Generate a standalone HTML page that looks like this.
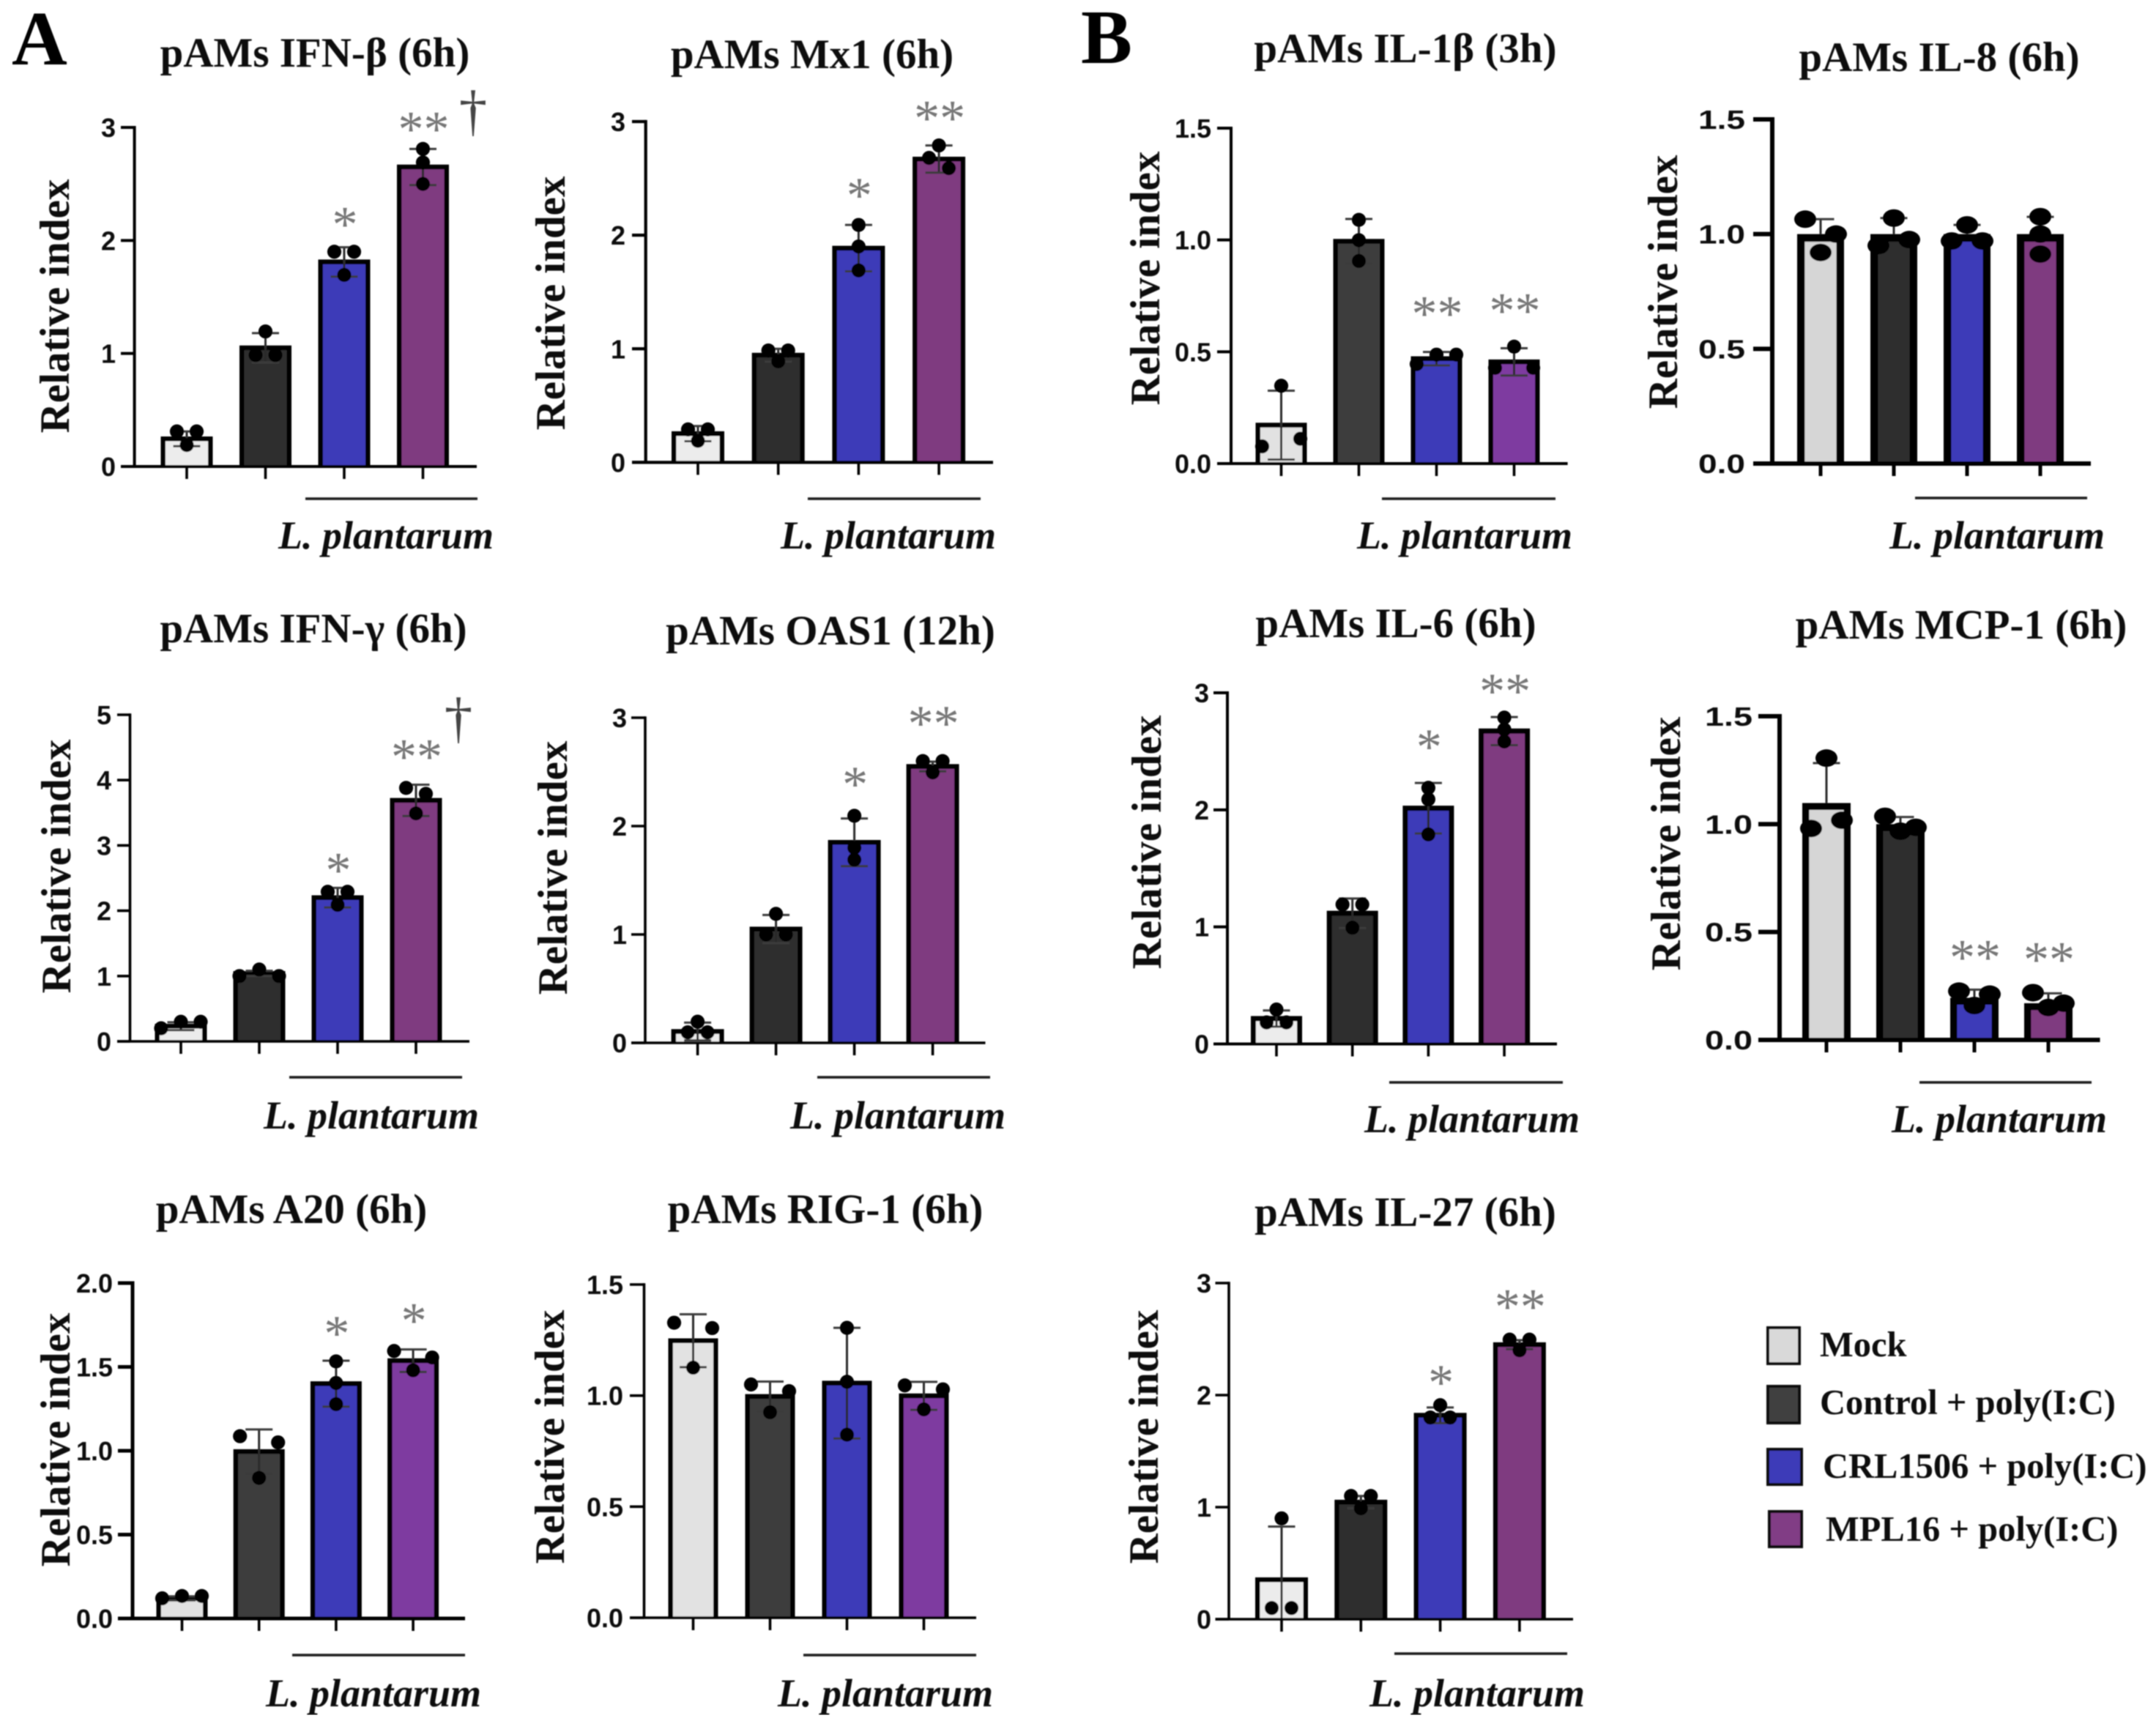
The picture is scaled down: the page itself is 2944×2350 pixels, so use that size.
<!DOCTYPE html>
<html lang="en">
<head>
<meta charset="utf-8">
<title>pAMs relative expression panels</title>
<style>
html,body{margin:0;padding:0;background:#fff;}
body{width:2944px;height:2350px;overflow:hidden;}
svg{display:block;}
.title{font:bold 57px "Liberation Serif",serif;text-anchor:middle;fill:#111;}
.ylabel{font:bold 57px "Liberation Serif",serif;text-anchor:middle;fill:#111;}
.species{font:italic bold 54px "Liberation Serif",serif;text-anchor:middle;fill:#111;}
.letter{font:bold 105px "Liberation Serif",serif;fill:#000;}
.legend-text{font:bold 48.5px "Liberation Serif",serif;fill:#111;}
.dagger{font:77px "Liberation Serif",serif;text-anchor:middle;fill:#444;}
.tick{font:bold 36px "Liberation Sans",sans-serif;text-anchor:end;fill:#111;}
.sig{font:70px "Liberation Serif",serif;text-anchor:middle;fill:#777;}
</style>
</head>
<body>
<svg id="fig" xmlns="http://www.w3.org/2000/svg" width="2944" height="2350" viewBox="0 0 2944 2350">
<defs><filter id="soft" x="0" y="0" width="100%" height="100%"><feGaussianBlur stdDeviation="0.9"/></filter></defs>
<rect width="2944" height="2350" fill="#fff"/>
<g id="root" filter="url(#soft)">
  <text class="letter" x="16" y="88">A</text>
  <text class="letter" x="1476" y="86">B</text>

  <text class="title" x="430" y="91">pAMs IFN-β (6h)</text>
  <text class="title" x="1109" y="93">pAMs Mx1 (6h)</text>
  <text class="title" x="428" y="877">pAMs IFN-γ (6h)</text>
  <text class="title" x="1134" y="880">pAMs OAS1 (12h)</text>
  <text class="title" x="398" y="1670">pAMs A20 (6h)</text>
  <text class="title" x="1127" y="1670">pAMs RIG-1 (6h)</text>
  <text class="title" x="1919" y="85">pAMs IL-1β (3h)</text>
  <text class="title" x="2648" y="97">pAMs IL-8 (6h)</text>
  <text class="title" x="1906" y="870">pAMs IL-6 (6h)</text>
  <text class="title" x="2678" y="872">pAMs MCP-1 (6h)</text>
  <text class="title" x="1919" y="1674">pAMs IL-27 (6h)</text>

  <text class="ylabel" transform="translate(94,418) rotate(-90)">Relative index</text>
  <text class="ylabel" transform="translate(771,414) rotate(-90)">Relative index</text>
  <text class="ylabel" transform="translate(96,1183) rotate(-90)">Relative index</text>
  <text class="ylabel" transform="translate(774,1185) rotate(-90)">Relative index</text>
  <text class="ylabel" transform="translate(95,1966) rotate(-90)">Relative index</text>
  <text class="ylabel" transform="translate(770,1962) rotate(-90)">Relative index</text>
  <text class="ylabel" transform="translate(1583,380) rotate(-90)">Relative index</text>
  <text class="ylabel" transform="translate(2290,385) rotate(-90)">Relative index</text>
  <text class="ylabel" transform="translate(1585,1150) rotate(-90)">Relative index</text>
  <text class="ylabel" transform="translate(2294,1152) rotate(-90)">Relative index</text>
  <text class="ylabel" transform="translate(1581,1962) rotate(-90)">Relative index</text>

  <g stroke="#1a1a1a" stroke-width="3.6">
    <line x1="417" x2="652" y1="681" y2="681"/>
    <line x1="1103" x2="1339" y1="681" y2="681"/>
    <line x1="395" x2="631" y1="1471" y2="1471"/>
    <line x1="1116" x2="1352" y1="1471" y2="1471"/>
    <line x1="399" x2="635" y1="2260" y2="2260"/>
    <line x1="1097" x2="1333" y1="2260" y2="2260"/>
    <line x1="1887" x2="2124" y1="681" y2="681"/>
    <line x1="2615" x2="2850" y1="680" y2="680"/>
    <line x1="1897" x2="2134" y1="1478" y2="1478"/>
    <line x1="2621" x2="2856" y1="1478" y2="1478"/>
    <line x1="1904" x2="2140" y1="2258" y2="2258"/>
  </g>

  <text class="species" x="527" y="749">L. plantarum</text>
  <text class="species" x="1213" y="749">L. plantarum</text>
  <text class="species" x="507" y="1541">L. plantarum</text>
  <text class="species" x="1226" y="1541">L. plantarum</text>
  <text class="species" x="510" y="2330">L. plantarum</text>
  <text class="species" x="1209" y="2330">L. plantarum</text>
  <text class="species" x="2000" y="749">L. plantarum</text>
  <text class="species" x="2727" y="749">L. plantarum</text>
  <text class="species" x="2010" y="1546">L. plantarum</text>
  <text class="species" x="2730" y="1546">L. plantarum</text>
  <text class="species" x="2017" y="2330">L. plantarum</text>

  <text class="dagger" x="646" y="177">†</text>
  <text class="dagger" x="626" y="1006">†</text>

  <g id="charts"></g>

  <g>
    <rect x="2414" y="1813" width="43" height="49" fill="#d9d9d9" stroke="#111" stroke-width="4"/>
    <text class="legend-text" x="2485" y="1852">Mock</text>
    <rect x="2414" y="1893" width="43" height="50" fill="#3f3f3f" stroke="#111" stroke-width="4"/>
    <text class="legend-text" x="2485" y="1931">Control + poly(I:C)</text>
    <rect x="2414" y="1979" width="46" height="48" fill="#3e3bb8" stroke="#111" stroke-width="4"/>
    <text class="legend-text" x="2489" y="2018">CRL1506 + poly(I:C)</text>
    <rect x="2416" y="2064" width="44" height="48" fill="#813d85" stroke="#111" stroke-width="4"/>
    <text class="legend-text" x="2493" y="2104">MPL16 + poly(I:C)</text>
  </g>
</g>
</svg>
<script>
// ---------- categories ----------
const categories = ['mock', 'control', 'crl1506', 'mpl16'];

// ---------- tick labels ----------
const ticksInt3 = ['0', '1', '2', '3'];
const ticksInt5 = ['0', '1', '2', '3', '4', '5'];
const ticksDec15 = ['0.0', '0.5', '1.0', '1.5'];
const ticksDec20 = ['0.0', '0.5', '1.0', '1.5', '2.0'];

// ---------- series values ----------
const ifnBetaMeans = [0.245, 1.05, 1.81, 2.65];
const ifnBetaSds = [0.065, 0.13, 0.13, 0.16];
const ifnBetaPoints = [[0.31, 0.31, 0.19], [1.195, 0.986, 0.986], [1.9, 1.9, 1.695], [2.81, 2.69, 2.5]];
const ifnBetaSig = ['', '', '*', '**'];

const mx1Means = [0.253, 0.944, 1.886, 2.67];
const mx1Sds = [0.067, 0.056, 0.204, 0.12];
const mx1Points = [[0.29, 0.29, 0.19], [0.985, 0.985, 0.89], [2.09, 1.9, 1.69], [2.79, 2.68, 2.59]];
const mx1Sig = ['', '', '*', '**'];

const ifnGammaMeans = [0.233, 1.04, 2.2, 3.69];
const ifnGammaSds = [0.06, 0.04, 0.15, 0.24];
const ifnGammaPoints = [[0.2, 0.3, 0.3], [1.0, 1.1, 1.0], [2.29, 2.29, 2.09], [3.88, 3.79, 3.49]];
const ifnGammaSig = ['', '', '*', '**'];

const oas1Means = [0.105, 1.05, 1.85, 2.55];
const oas1Sds = [0.082, 0.13, 0.22, 0.045];
const oas1Points = [[0.097, 0.195, 0.097], [1.0, 1.19, 1.0], [2.095, 1.8, 1.69], [2.6, 2.6, 2.495]];
const oas1Sig = ['', '', '*', '**'];

const a20Means = [0.12, 0.995, 1.4, 1.537];
const a20Sds = [0.012, 0.132, 0.137, 0.067];
const a20Points = [[0.12, 0.134, 0.134], [1.087, 1.05, 0.838], [1.533, 1.404, 1.278], [1.595, 1.556, 1.48]];
const a20Sig = ['', '', '*', '*'];

const rig1Means = [1.247, 0.996, 1.056, 0.999];
const rig1Sds = [0.119, 0.067, 0.249, 0.063];
const rig1Points = [[1.328, 1.304, 1.126], [1.05, 1.02, 0.925], [1.305, 1.062, 0.824], [1.046, 1.028, 0.938]];
const rig1Sig = ['', '', '', ''];

const il1bMeans = [0.172, 0.994, 0.469, 0.455];
const il1bSds = [0.154, 0.1, 0.03, 0.061];
const il1bPoints = [[0.348, 0.077, 0.111], [1.09, 0.999, 0.906], [0.445, 0.487, 0.487], [0.523, 0.428, 0.428]];
const il1bSig = ['', '', '**', '**'];

const il8Means = [1, 1, 1, 1];
const il8Sds = [0.065, 0.07, 0.04, 0.075];
const il8Points = [[1.065, 1.0, 0.92], [1.07, 0.95, 0.976], [1.04, 0.97, 0.97], [1.076, 1.0, 0.913]];
const il8Sig = ['', '', '', ''];

const il6Means = [0.217, 1.116, 2.014, 2.673];
const il6Sds = [0.069, 0.127, 0.216, 0.12];
const il6Points = [[0.184, 0.294, 0.184], [1.192, 1.192, 0.993], [2.188, 2.09, 1.79], [2.788, 2.686, 2.584]];
const il6Sig = ['', '', '*', '**'];

const mcp1Means = [1.098, 1.0, 0.195, 0.17];
const mcp1Sds = [0.185, 0.033, 0.038, 0.046];
const mcp1Points = [[1.306, 0.98, 1.018], [1.036, 0.967, 0.985], [0.226, 0.159, 0.212], [0.219, 0.15, 0.17]];
const mcp1Sig = ['', '', '**', '**'];

const il27Means = [0.352, 1.045, 1.82, 2.45];
const il27Sds = [0.475, 0.055, 0.07, 0.04];
const il27Points = [[0.9, 0.1, 0.1], [1.1, 1.1, 0.99], [1.91, 1.8, 1.8], [2.495, 2.495, 2.4]];
const il27Sig = ['', '', '*', '**'];

// ---------- styling and panel frames ----------
const fillsA = ['#ececec', '#2e2e2e', '#3e3bb8', '#7f3b80'];
const fillsB = ['#e2e2e2', '#3e3e3e', '#3e3bb8', '#7e3aa0'];
const fillsC = ['#d6d6d6', '#2e2e2e', '#3e3bb8', '#7f3b80'];

const panels = [
  {id:'ifn-beta', means:ifnBetaMeans, sds:ifnBetaSds, points:ifnBetaPoints, ticks:ticksInt3, sig:ifnBetaSig, fills:fillsA,
   axisX:183.6, y0:637, yTop:174, tickLeft:165, xEnd:651, bar0:255, step:107.5, barW:71, barS:6.5, axisW:4, labelRight:158, sigGap:{2:42,3:38}},
  {id:'mx1', means:mx1Means, sds:mx1Sds, points:mx1Points, ticks:ticksInt3, sig:mx1Sig, fills:fillsA,
   axisX:881.7, y0:631.4, yTop:166, tickLeft:863, xEnd:1356, bar0:953, step:109.7, barW:72, barS:6.5, axisW:4.2, labelRight:854, sigGap:{2:51,3:48}},
  {id:'ifn-gamma', means:ifnGammaMeans, sds:ifnGammaSds, points:ifnGammaPoints, ticks:ticksInt5, sig:ifnGammaSig, fills:fillsA,
   axisX:177.5, y0:1422, yTop:976, tickLeft:160, xEnd:641, bar0:247, step:107, barW:71, barS:6.5, axisW:3.6, labelRight:152, sigGap:{2:35,3:49}},
  {id:'oas1', means:oas1Means, sds:oas1Sds, points:oas1Points, ticks:ticksInt3, sig:oas1Sig, fills:fillsA,
   axisX:881, y0:1424, yTop:980, tickLeft:862, xEnd:1345.5, bar0:952.6, step:107, barW:72, barS:6.5, axisW:3.6, labelRight:856, sigGap:{2:54,3:62}},
  {id:'a20', means:a20Means, sds:a20Sds, points:a20Points, ticks:ticksDec20, sig:a20Sig, fills:fillsB,
   axisX:181, y0:2210, yTop:1752, tickLeft:161, xEnd:635, bar0:248.5, step:105.2, barW:70, barS:6.5, axisW:5, labelRight:154, sigGap:{2:48,3:50}, widePairs:[1,3]},
  {id:'rig1', means:rig1Means, sds:rig1Sds, points:rig1Points, ticks:ticksDec15, sig:rig1Sig, fills:fillsB,
   axisX:879.5, y0:2209, yTop:1754, tickLeft:860, xEnd:1333, bar0:946.5, step:105, barW:68, barS:6.5, axisW:3.6, labelRight:851, sigGap:{}, widePairs:[0,1,3]},
  {id:'il1b', means:il1bMeans, sds:il1bSds, points:il1bPoints, ticks:ticksDec15, sig:il1bSig, fills:fillsB,
   axisX:1681, y0:633, yTop:175, tickLeft:1662, xEnd:2140.6, bar0:1749.5, step:106, barW:70, barS:6.5, axisW:4, labelRight:1654, sigGap:{2:63,3:60}, widePairs:[0,3]},
  {id:'il8', means:il8Means, sds:il8Sds, points:il8Points, ticks:ticksDec15, sig:il8Sig, fills:fillsC, upperOnly:true,
   axisX:2420, y0:633, yTop:163, tickLeft:2394, xEnd:2855, bar0:2486, step:100, barW:64, barS:10.5, axisW:6, labelRight:2383, sigGap:{}, stretch:64, rx:15, ry:12, tri:21, pair:21, near:20.5},
  {id:'il6', means:il6Means, sds:il6Sds, points:il6Points, ticks:ticksInt3, sig:il6Sig, fills:fillsA,
   axisX:1676, y0:1425.5, yTop:946, tickLeft:1657, xEnd:2126, bar0:1743, step:103.7, barW:70, barS:7, axisW:4, labelRight:1651, sigGap:{2:60,3:46}},
  {id:'mcp1', means:mcp1Means, sds:mcp1Sds, points:mcp1Points, ticks:ticksDec15, sig:mcp1Sig, fills:fillsC, upperOnly:true,
   axisX:2430, y0:1420, yTop:978, tickLeft:2401, xEnd:2867.5, bar0:2494, step:101, barW:66, barS:9.5, axisW:6, labelRight:2393, sigGap:{2:55,3:56}, stretch:65, rx:15, ry:12, tri:21, pair:21, near:20.5},
  {id:'il27', means:il27Means, sds:il27Sds, points:il27Points, ticks:ticksInt3, sig:il27Sig, fills:fillsA,
   axisX:1678, y0:2211, yTop:1752, tickLeft:1659.5, xEnd:2148, bar0:1750, step:108.3, barW:72, barS:6.5, axisW:3.6, labelRight:1654, sigGap:{2:42,3:56}}
];

const NS = 'http://www.w3.org/2000/svg';
function make(tag, attrs, parent) {
  const el = document.createElementNS(NS, tag);
  for (const k in attrs) el.setAttribute(k, attrs[k]);
  parent.appendChild(el);
  return el;
}

// horizontal offsets of replicate dots: values close in pixel terms are spread sideways
function dotOffsets(values, unit, P, barIndex) {
  const near = P.near || 14;
  const tri = P.tri || 27;
  const wide = P.widePairs && P.widePairs.includes(barIndex);
  const pair = P.pair || (wide ? 26 : 13.5);
  const order = values.map((v, i) => i).sort((a, b) => values[b] - values[a]);
  const out = values.map(() => 0);
  let group = [];
  const flush = () => {
    group.sort((a, b) => a - b);
    if (group.length === 2) { out[group[0]] = -pair; out[group[1]] = pair; }
    if (group.length === 3) { out[group[0]] = -tri; out[group[2]] = tri; }
    group = [];
  };
  order.forEach((idx, n) => {
    if (n > 0 && (values[order[n - 1]] - values[idx]) * unit >= near) flush();
    group.push(idx);
  });
  flush();
  return out;
}

function drawPanel(P) {
  const host = document.getElementById('charts');
  const g = make('g', {}, host);
  
  

  const tickValues = P.ticks.map(Number);
  const maxV = tickValues[tickValues.length - 1];
  const unit = (P.y0 - P.yTop) / maxV;
  const yScale = v => P.y0 - v * unit;
  const xScale = i => P.bar0 + i * P.step;
  const rx = P.rx || 9.6, ry = P.ry || 9.6;

  categories.forEach((cat, i) => {
    const cx = xScale(i);
    const top = yScale(P.means[i]) + (P.stretch ? P.barS / 2 : 0);
    const halfW = (P.barW - P.barS) / 2;
    const bar = make('rect', {
      x: cx - halfW, y: top, width: 2 * halfW, height: Math.max(P.y0 - top, 0),
      fill: P.fills[i]
    }, g);
    
    
    const outline = make('path', {
      d: 'M' + (cx - halfW) + ' ' + P.y0 + 'V' + top + 'H' + (cx + halfW) + 'V' + P.y0,
      fill: 'none', stroke: '#000', 'stroke-width': P.barS
    }, g);
    
    

    const hiV = P.means[i] + P.sds[i];
    const loV = P.means[i] - P.sds[i];
    const yHi = yScale(hiV);
    const yLo = P.upperOnly ? yScale(P.means[i]) : yScale(Math.max(loV, 0));
    const stem = make('line', {x1: cx, x2: cx, y1: yHi, y2: yLo, stroke: '#2b2b2b', 'stroke-width': 3}, g);
    
    
    const capHi = make('line', {x1: cx - 18.5, x2: cx + 18.5, y1: yHi, y2: yHi, stroke: '#3a3a3a', 'stroke-width': 3}, g);
    
    
    if (loV > 0 && !P.upperOnly) {
      const capLo = make('line', {x1: cx - 18.5, x2: cx + 18.5, y1: yLo, y2: yLo, stroke: '#3a3a3a', 'stroke-width': 3}, g);
      
      
    }

    const offs = dotOffsets(P.points[i], unit, P, i);
    P.points[i].forEach((v, k) => {
      const dot = make('ellipse', {cx: cx + offs[k], cy: yScale(v), rx: rx, ry: ry, fill: '#000'}, g);
      
      
    });

    const mark = make('line', {x1: cx, x2: cx, y1: P.y0, y2: P.y0 + 17, stroke: '#000', 'stroke-width': P.axisW > 5 ? 5 : 3.6}, g);
    
    

    if (P.sig[i]) {
      const peak = Math.max(hiV, ...P.points[i]);
      const cy = yScale(peak) - (P.sigGap[i] || 45);
      const star = make('text', {class: 'sig', x: cx + 1, y: cy + 34}, g);
      star.textContent = P.sig[i];
      
      
    }
  });

  const yAxis = make('line', {x1: P.axisX, x2: P.axisX, y1: P.yTop - P.axisW / 2, y2: P.y0, stroke: '#000', 'stroke-width': P.axisW}, g);
  
  
  const xAxis = make('line', {x1: P.tickLeft, x2: P.xEnd, y1: P.y0, y2: P.y0, stroke: '#000', 'stroke-width': P.axisW}, g);
  
  

  P.ticks.forEach((label, t) => {
    const y = yScale(tickValues[t]);
    const tk = make('line', {x1: P.tickLeft, x2: P.axisX, y1: y, y2: y, stroke: '#000', 'stroke-width': P.axisW}, g);
    
    
    const attrs = {class: 'tick', x: P.labelRight, y: y + 13};
    if (P.stretch) { attrs.textLength = P.stretch; attrs.lengthAdjust = 'spacingAndGlyphs'; }
    const tx = make('text', attrs, g);
    tx.textContent = label;
    
    
  });
}

panels.forEach(drawPanel);
</script>
</body>
</html>
